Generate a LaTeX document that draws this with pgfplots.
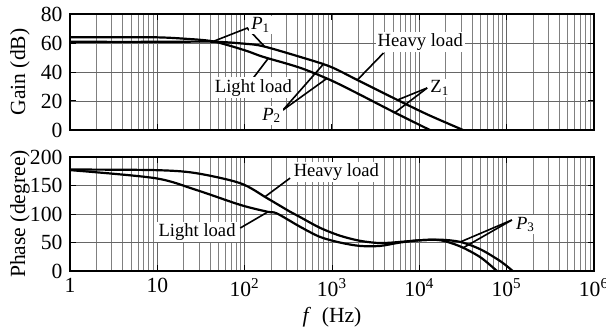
\documentclass[border=0pt]{standalone}
\usepackage{fontspec}
\setmainfont{Liberation Serif}
\usepackage{pgfplots}
\pgfplotsset{compat=1.18}
\begin{document}
\fontsize{10.8}{13}\selectfont
\begin{tikzpicture}
\useasboundingbox (-35pt,7pt) rectangle (268pt,-159.5pt);
\tikzset{
  curve/.style={black, line width=1.1pt, smooth, mark=none},
  ann/.style={black, line width=0.8pt},
  lab/.style={fill=white, inner sep=1pt, font=\fontsize{9.3}{11}\selectfont},
}
\pgfplotsset{
  every axis/.append style={
    scale only axis, width=262pt,
    font=\fontsize{10.8}{13}\selectfont,
    xmode=log, xmin=1, xmax=1e6,
    xtick={1,10,100,1000,10000,100000,1000000},
    grid=both,
    major grid style={black!60, line width=0.45pt},
    minor grid style={black!50, line width=0.4pt},
    axis line style={line width=0.9pt},
    tick style={black, line width=0.5pt},
    major tick length=3pt, minor tick length=0pt,
    tick align=inside,
    /pgf/number format/assume math mode=true,
    every axis y label/.style={at={(axis description cs:-0.0954,0.5)}, rotate=90, anchor=center},
  },
}
\begin{axis}[name=top, at={(0,0)}, anchor=north west, height=58pt,
  ymin=0, ymax=80, ytick={0,20,40,60,80}, xticklabels={,,,,,,},
  ylabel={Gain (dB)}]
\addplot[curve] coordinates {(1,64.0) (3.16,64.0) (10,63.9) (20,63.0) (43.7,61.1) (100,55.0) (162,50.5) (427,43.0) (955,34.5) (1995,25.0) (5012,12.6) (13183,0) (15849,-2.4)};
\addplot[curve] coordinates {(1,60.8) (10,60.8) (43.7,60.9) (100,59.5) (162,57.8) (427,50.5) (955,43.7) (1995,34.2) (5623,20.7) (12589,10.5) (31623,0) (39811,-2.8)};
\draw[ann] (axis cs:43.7,61.1) -- (axis cs:107,70.3) -- (axis cs:170,57.4);
\node[lab, anchor=west] at (axis cs:112,72.5) {\textit{P}\textsubscript{1}};
\draw[ann] (axis cs:126,36) -- (axis cs:186,49.4);
\node[lab] at (axis cs:126,29) {Light load};
\draw[ann] (axis cs:275,13.8) -- (axis cs:794,45.3);
\draw[ann] (axis cs:275,13.8) -- (axis cs:871,35.5);
\node[lab] at (axis cs:204,10) {\textit{P}\textsubscript{2}};
\draw[ann] (axis cs:3890,53.1) -- (axis cs:1950,34.5);
\node[lab] at (axis cs:10233,60.7) {Heavy load};
\draw[ann] (axis cs:12303,29) -- (axis cs:5623,20.7);
\draw[ann] (axis cs:12303,29) -- (axis cs:5248,12.0);
\node[lab, anchor=west] at (axis cs:12589,29) {Z\textsubscript{1}};
\end{axis}
\begin{axis}[name=bot, at={(0,-71.5pt)}, anchor=north west, height=57pt,
  ymin=0, ymax=200, ytick={0,50,100,150,200},
  xticklabels={1,10,10\textsuperscript{2},10\textsuperscript{3},10\textsuperscript{4},10\textsuperscript{5},10\textsuperscript{6}},
  xlabel={\textit{f}\ \ (Hz)},
  xlabel style={at={(axis description cs:0.5,-0.4035)}, anchor=center},
  ylabel={Phase (degree)}]
\addplot[curve] coordinates {(1,178) (9.33,177) (26.9,172) (89.1,154) (182,127.5) (331,104) (427,95) (724,76) (1230,62) (2089,53) (3548,49) (6026,51) (10233,54) (17378,55) (29512,51) (50119,38) (85114,17) (117490,0) (131826,-6)};
\addplot[curve] coordinates {(1,177) (9.33,163) (26.9,143) (89.1,116) (182,104) (234,101) (427,78) (724,60) (1230,50) (2089,44) (3548,44) (6026,50) (10233,54) (17378,54) (29512,43) (50119,24) (77625,0) (89125,-7)};
\draw[ann] (axis cs:331,163) -- (axis cs:170,130);
\node[lab] at (axis cs:1122,173.7) {Heavy load};
\draw[ann] (axis cs:89,75.4) -- (axis cs:186,104);
\node[lab] at (axis cs:28.5,68.4) {Light load};
\draw[ann] (axis cs:114815,89.5) -- (axis cs:29512,51);
\draw[ann] (axis cs:114815,89.5) -- (axis cs:31623,40.5);
\node[lab, anchor=west] at (axis cs:120226,82) {\textit{P}\textsubscript{3}};
\end{axis}
\end{tikzpicture}
\end{document}
